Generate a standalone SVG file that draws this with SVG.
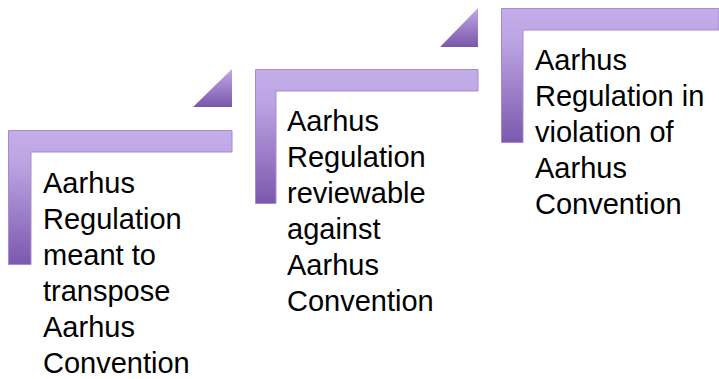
<svg xmlns="http://www.w3.org/2000/svg" width="719" height="379" viewBox="0 0 719 379">
<defs>
<linearGradient id="gL" x1="0" y1="0" x2="0" y2="1">
<stop offset="0" stop-color="#c4aeea"/>
<stop offset="0.25" stop-color="#bca4e2"/>
<stop offset="1" stop-color="#7b58ad"/>
</linearGradient>
<linearGradient id="gT" x1="0" y1="0" x2="0" y2="1">
<stop offset="0" stop-color="#c1a9e8"/>
<stop offset="1" stop-color="#7a57ab"/>
</linearGradient>
</defs>
<style>
.bar{fill:url(#gL);stroke:#a68bd2;stroke-width:1}
.tri{fill:url(#gT);stroke:none}
.t{font-family:"Liberation Sans",Arial,sans-serif;font-size:29px;fill:#000}
</style>
<g id="step1">
<path class="bar" d="M8.5,130.5 H232 V152 H31 V264.5 H8.5 Z"/>
<text class="t" x="43" y="193">Aarhus</text>
<text class="t" x="43" y="229">Regulation</text>
<text class="t" x="43" y="265">meant to</text>
<text class="t" x="43" y="301">transpose</text>
<text class="t" x="43" y="337">Aarhus</text>
<text class="t" x="43" y="373">Convention</text>
</g>
<g id="arrow1">
<polygon class="tri" points="193,107 232,107 232,69"/>
</g>
<g id="step2">
<path class="bar" d="M255.5,69.5 H478 V91 H276 V203.5 H255.5 Z"/>
<text class="t" x="287" y="131">Aarhus</text>
<text class="t" x="287" y="167">Regulation</text>
<text class="t" x="287" y="203">reviewable</text>
<text class="t" x="287" y="239">against</text>
<text class="t" x="287" y="275">Aarhus</text>
<text class="t" x="287" y="311">Convention</text>
</g>
<g id="arrow2">
<polygon class="tri" points="440,47 478,47 478,8"/>
</g>
<g id="step3">
<path class="bar" d="M501.5,8.5 H719 V30 H523 V142.5 H501.5 Z"/>
<text class="t" x="535" y="70">Aarhus</text>
<text class="t" x="535" y="106">Regulation in</text>
<text class="t" x="535" y="142">violation of</text>
<text class="t" x="535" y="178">Aarhus</text>
<text class="t" x="535" y="214">Convention</text>
</g>
<g id="connectors"></g>
</svg>
